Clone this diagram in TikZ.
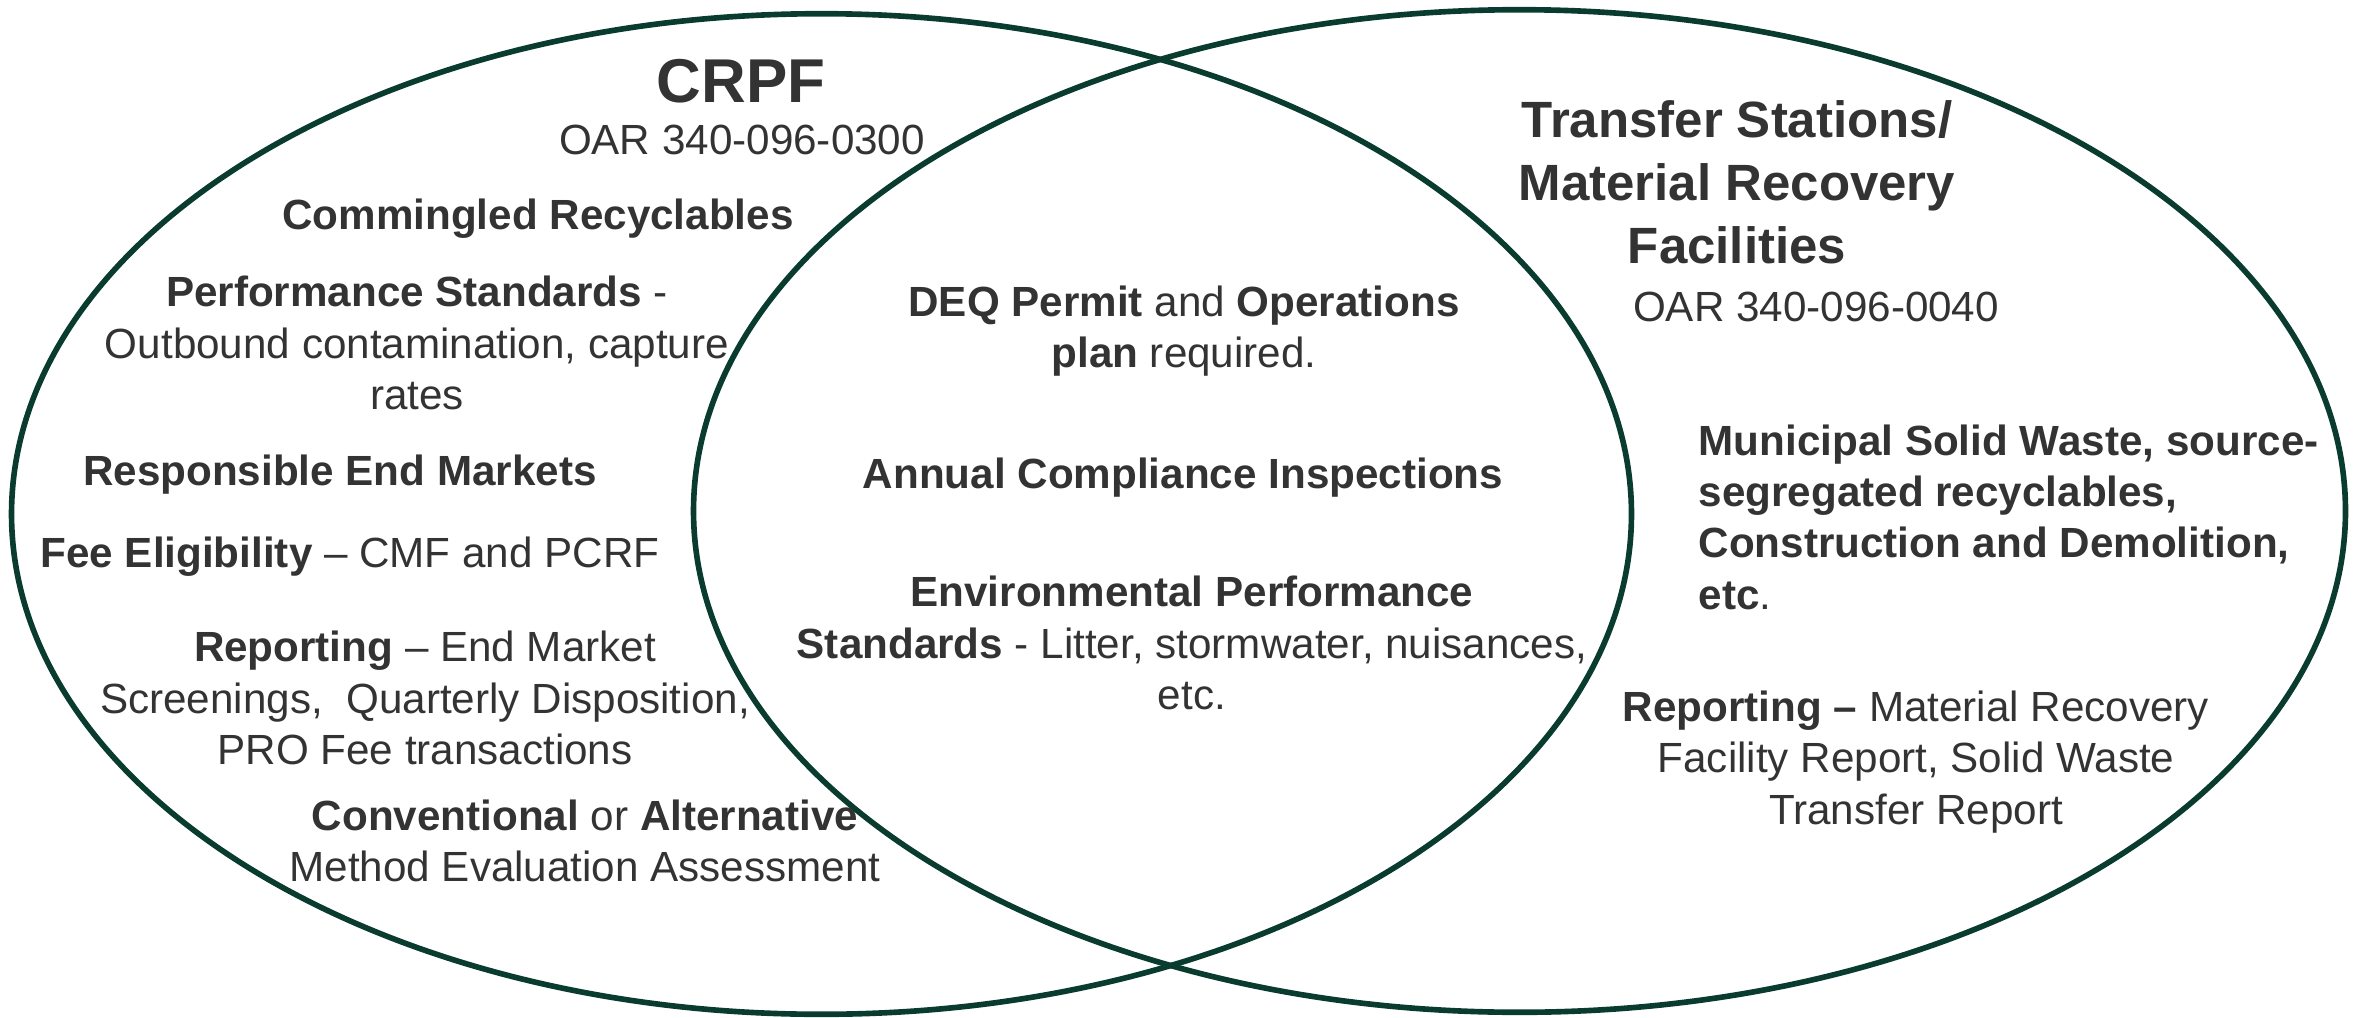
\documentclass[tikz,border=0pt]{standalone}
\usepackage{fontspec}
\setmainfont{Liberation Sans}
\usetikzlibrary{shapes.geometric}
\definecolor{ringgreen}{HTML}{0A3B2F}
\definecolor{inkgray}{HTML}{333333}
\tikzset{
  ring/.style={ellipse, draw=ringgreen, line width=1.6pt, inner sep=0pt},
  txt/.style={text=inkgray, inner sep=0pt, align=center,
    font=\fontsize{12}{14.6}\selectfont},
  head/.style={txt, font=\bfseries\fontsize{14.5}{17.9}\selectfont}
}
\begin{document}
\begin{tikzpicture}[x=0.01cm, y=-0.01cm]
    \useasboundingbox (0,0) rectangle (2357,1018);

    \node[ring, minimum width=16.19cm, minimum height=10cm] (crpfset) at (821.5,514) {};
    \node[ring, minimum width=16.51cm, minimum height=10.02cm] (tsset) at (1519.5,511) {};

    \node[head, font=\bfseries\fontsize{17.6}{21}\selectfont] (crpf) at (741,81) {CRPF};
    \node[txt] (crpfoar) at (742,140) {OAR 340-096-0300};
    \node[txt] (comm) at (538,219) {\textbf{Commingled Recyclables}};
    \node[txt] (perf) at (417,343) {\textbf{Performance Standards} -\\Outbound contamination, capture\\rates};
    \node[txt] (resp) at (340,475) {\textbf{Responsible End Markets}};
    \node[txt] (fee) at (350,557) {\textbf{Fee Eligibility} -- CMF and PCRF};
    \node[txt] (crpfrep) at (425,698) {\textbf{Reporting} -- End Market\\Screenings,\ \ Quarterly Disposition,\\PRO Fee transactions};
    \node[txt] (conv) at (585,841) {\textbf{Conventional} or \textbf{Alternative}\\Method Evaluation Assessment};

    \node[txt] (deq) at (1184,331) {\textbf{DEQ Permit} and \textbf{Operations}\\\textbf{plan} required.};
    \node[txt] (annual) at (1183,478) {\textbf{Annual Compliance Inspections}};
    \node[txt] (env) at (1192,643) {\textbf{Environmental Performance}\\\textbf{Standards} - Litter, stormwater, nuisances,\\etc.};

    \node[head] (ts) at (1737,182) {Transfer Stations/\\Material Recovery\\Facilities};
    \node[txt] (tsoar) at (1816,307) {OAR 340-096-0040};
    \node[txt, align=left, anchor=west] (msw) at (1698,517) {\textbf{Municipal Solid Waste, source-}\\\textbf{segregated recyclables,}\\\textbf{Construction and Demolition,}\\\textbf{etc}.};
    \node[txt] (tsrep) at (1916,762) {\textbf{Reporting --} Material Recovery\\Facility Report, Solid Waste\\Transfer Report};
\end{tikzpicture}
\end{document}
